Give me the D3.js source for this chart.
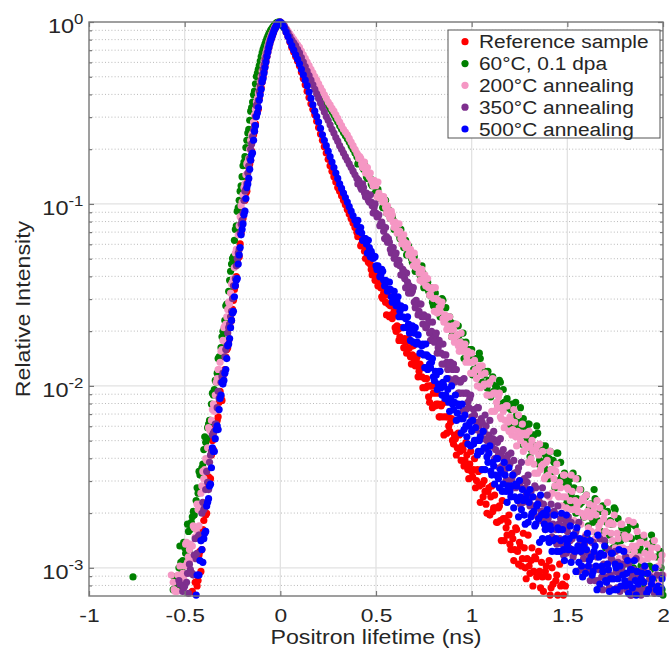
<!DOCTYPE html>
<html>
<head>
<meta charset="utf-8">
<script src="https://cdn.jsdelivr.net/npm/d3@7"></script>
<style>
html, body { margin: 0; padding: 0; background: #fff; }
svg { display: block; font-family: "Liberation Sans", Arial, Helvetica, sans-serif; }
</style>
</head>
<body>
<div id="chart"></div>
<script>
// positron lifetime spectra
// values = log10(relative intensity), N = channel below the plotted range
var N = null;

// channels every 0.01 ns
var lifetimeNs = [
  -0.8,-0.79,-0.78,-0.77,-0.76,-0.75,-0.74,-0.73,-0.72,-0.71,
  -0.7,-0.69,-0.68,-0.67,-0.66,-0.65,-0.64,-0.63,-0.62,-0.61,
  -0.6,-0.59,-0.58,-0.57,-0.56,-0.55,-0.54,-0.53,-0.52,-0.51,
  -0.5,-0.49,-0.48,-0.47,-0.46,-0.45,-0.44,-0.43,-0.42,-0.41,
  -0.4,-0.39,-0.38,-0.37,-0.36,-0.35,-0.34,-0.33,-0.32,-0.31,
  -0.3,-0.29,-0.28,-0.27,-0.26,-0.25,-0.24,-0.23,-0.22,-0.21,
  -0.2,-0.19,-0.18,-0.17,-0.16,-0.15,-0.14,-0.13,-0.12,-0.11,
  -0.1,-0.09,-0.08,-0.07,-0.06,-0.05,-0.04,-0.03,-0.02,-0.01,
  0,0.01,0.02,0.03,0.04,0.05,0.06,0.07,0.08,0.09,
  0.1,0.11,0.12,0.13,0.14,0.15,0.16,0.17,0.18,0.19,
  0.2,0.21,0.22,0.23,0.24,0.25,0.26,0.27,0.28,0.29,
  0.3,0.31,0.32,0.33,0.34,0.35,0.36,0.37,0.38,0.39,
  0.4,0.41,0.42,0.43,0.44,0.45,0.46,0.47,0.48,0.49,
  0.5,0.51,0.52,0.53,0.54,0.55,0.56,0.57,0.58,0.59,
  0.6,0.61,0.62,0.63,0.64,0.65,0.66,0.67,0.68,0.69,
  0.7,0.71,0.72,0.73,0.74,0.75,0.76,0.77,0.78,0.79,
  0.8,0.81,0.82,0.83,0.84,0.85,0.86,0.87,0.88,0.89,
  0.9,0.91,0.92,0.93,0.94,0.95,0.96,0.97,0.98,0.99,
  1,1.01,1.02,1.03,1.04,1.05,1.06,1.07,1.08,1.09,
  1.1,1.11,1.12,1.13,1.14,1.15,1.16,1.17,1.18,1.19,
  1.2,1.21,1.22,1.23,1.24,1.25,1.26,1.27,1.28,1.29,
  1.3,1.31,1.32,1.33,1.34,1.35,1.36,1.37,1.38,1.39,
  1.4,1.41,1.42,1.43,1.44,1.45,1.46,1.47,1.48,1.49,
  1.5,1.51,1.52,1.53,1.54,1.55,1.56,1.57,1.58,1.59,
  1.6,1.61,1.62,1.63,1.64,1.65,1.66,1.67,1.68,1.69,
  1.7,1.71,1.72,1.73,1.74,1.75,1.76,1.77,1.78,1.79,
  1.8,1.81,1.82,1.83,1.84,1.85,1.86,1.87,1.88,1.89,
  1.9,1.91,1.92,1.93,1.94,1.95,1.96,1.97,1.98,1.99,
  2
];

// in-between channels on the rising edge
var riseHalfNs = [
  -0.555,-0.545,-0.535,-0.525,-0.515,-0.505,-0.495,-0.485,-0.475,-0.465,
  -0.455,-0.445,-0.435,-0.425,-0.415,-0.405,-0.395,-0.385,-0.375,-0.365,
  -0.355,-0.345,-0.335,-0.325,-0.315,-0.305,-0.295,-0.285,-0.275,-0.265,
  -0.255,-0.245,-0.235,-0.225,-0.215,-0.205,-0.195,-0.185,-0.175,-0.165,
  -0.155,-0.145,-0.135,-0.125,-0.115,-0.105,-0.095,-0.085,-0.075,-0.065,
  -0.055,-0.045,-0.035,-0.025,-0.015,-0.005
];

// in-between channels of the tail
var tailHalfNs = [
  0.405,0.415,0.425,0.435,0.445,0.455,0.465,0.475,0.485,0.495,
  0.505,0.515,0.525,0.535,0.545,0.555,0.565,0.575,0.585,0.595,
  0.605,0.615,0.625,0.635,0.645,0.655,0.665,0.675,0.685,0.695,
  0.705,0.715,0.725,0.735,0.745,0.755,0.765,0.775,0.785,0.795,
  0.805,0.815,0.825,0.835,0.845,0.855,0.865,0.875,0.885,0.895,
  0.905,0.915,0.925,0.935,0.945,0.955,0.965,0.975,0.985,0.995,
  1.005,1.015,1.025,1.035,1.045,1.055,1.065,1.075,1.085,1.095,
  1.105,1.115,1.125,1.135,1.145,1.155,1.165,1.175,1.185,1.195,
  1.205,1.215,1.225,1.235,1.245,1.255,1.265,1.275,1.285,1.295,
  1.305,1.315,1.325,1.335,1.345,1.355,1.365,1.375,1.385,1.395,
  1.405,1.415,1.425,1.435,1.445,1.455,1.465,1.475,1.485,1.495,
  1.505,1.515,1.525,1.535,1.545,1.555,1.565,1.575,1.585,1.595,
  1.605,1.615,1.625,1.635,1.645,1.655,1.665,1.675,1.685,1.695,
  1.705,1.715,1.725,1.735,1.745,1.755,1.765,1.775,1.785,1.795,
  1.805,1.815,1.825,1.835,1.845,1.855,1.865,1.875,1.885,1.895,
  1.905,1.915,1.925,1.935,1.945,1.955,1.965,1.975,1.985,1.995
];

var referenceLog = [
  N,N,N,N,N,N,N,N,N,N,
  N,N,N,N,N,N,N,N,N,N,
  N,N,N,N,N,N,N,N,N,N,
  N,N,N,N,-3.13,N,-3.08,-3.07,-2.91,-2.9,
  -2.74,-2.71,-2.55,-2.52,-2.38,-2.35,-2.23,-2.19,-2.09,-2.06,
  -1.95,-1.91,-1.8,-1.75,-1.64,-1.58,-1.47,-1.4,-1.29,-1.22,
  -1.11,-1.04,-0.94,-0.87,-0.78,-0.71,-0.62,-0.56,-0.49,-0.42,
  -0.36,-0.3,-0.24,-0.19,-0.14,-0.1,-0.07,-0.04,-0.02,-0.005,
  0,-0.01,-0.03,-0.055,-0.08,-0.11,-0.14,-0.165,-0.19,-0.215,
  -0.24,-0.275,-0.31,-0.345,-0.38,-0.415,-0.45,-0.48,-0.51,-0.545,
  -0.58,-0.615,-0.65,-0.685,-0.72,-0.755,-0.79,-0.82,-0.85,-0.88,
  -0.91,-0.93,-0.955,-0.98,-1.005,-1.03,-1.055,-1.08,-1.105,-1.13,
  -1.155,-1.17,-1.23,-1.21,-1.26,-1.25,-1.32,-1.33,-1.39,-1.36,
  -1.4,-1.45,-1.42,-1.51,-1.49,-1.54,-1.5,-1.62,-1.61,-1.61,
  -1.68,-1.67,-1.75,-1.68,-1.75,-1.74,-1.82,-1.74,-1.84,-1.83,
  -1.86,-1.86,-1.95,-1.88,-1.95,-1.9,-2.01,-2,-2.09,-2,
  -2.04,-2.11,-2.04,-2.17,-2.11,-2.17,-2.09,-2.26,-2.22,-2.2,
  -2.3,-2.27,-2.38,-2.26,-2.36,-2.33,-2.44,-2.31,-2.46,-2.43,
  -2.47,-2.46,-2.56,-2.46,-2.55,-2.46,-2.61,-2.58,-2.7,-2.56,
  -2.61,-2.69,-2.6,-2.75,-2.67,-2.74,-2.63,-2.85,-2.78,-2.75,
  -2.87,-2.81,-2.96,-2.78,-2.91,-2.86,-2.99,-2.81,-3,-2.95,
  -2.99,-2.96,-3.1,-2.94,-3.05,-2.91,-3.11,-3.05,N,-2.99,
  -3.05,-3.15,-3,N,-3.07,-3.15,-2.98,N,-3.15,-3.1,
  N,N,N,N,N,N,N,N,N,N,
  N,N,N,N,N,N,N,N,N,N,
  N,N,N,N,N,N,N,N,N,N,
  N,N,N,N,N,N,N,N,N,N,
  N,N,N,N,N,N,N,N,N,N,
  N
];
var referenceRiseLog = [
  N,N,N,N,N,N,N,N,N,N,
  N,-3.08,-3.1,-2.93,-3.02,-2.79,-2.66,-2.7,-2.5,-2.51,
  -2.3,-2.29,-2.21,-2.17,-2.03,-2.08,-1.92,-1.84,-1.79,-1.66,
  -1.64,-1.53,-1.45,-1.31,-1.29,-1.16,-1.08,-0.98,-0.93,-0.8,
  -0.76,-0.65,-0.6,-0.51,-0.48,-0.38,-0.33,-0.27,-0.215,-0.165,
  -0.12,-0.085,-0.055,-0.03,-0.012,-0.002
];
var referenceTailLog = [
  -1.18,-1.16,-1.22,-1.22,-1.3,-1.29,-1.3,-1.36,-1.36,-1.42,
  -1.38,-1.44,-1.46,-1.52,-1.48,-1.61,-1.55,-1.56,-1.63,-1.59,
  -1.7,-1.69,-1.73,-1.68,-1.79,-1.76,-1.8,-1.79,-1.88,-1.78,
  -1.89,-1.84,-1.92,-1.9,-2.01,-1.96,-1.96,-2.06,-2,-2.12,
  -1.99,-2.1,-2.1,-2.17,-2.1,-2.27,-2.17,-2.17,-2.25,-2.18,
  -2.32,-2.29,-2.34,-2.27,-2.41,-2.35,-2.41,-2.38,-2.51,-2.36,
  -2.5,-2.4,-2.52,-2.47,-2.64,-2.54,-2.52,-2.65,-2.58,-2.71,
  -2.55,-2.67,-2.67,-2.75,-2.66,-2.85,-2.73,-2.73,-2.82,-2.71,
  -2.9,-2.84,-2.9,-2.79,-2.98,-2.88,-2.95,-2.89,-3.06,-2.82,
  -3.03,-2.89,-3.02,-2.95,N,-3.02,-2.97,-3.13,-3.02,N,
  -2.96,-3.11,-3.09,N,-3.04,N,-3.1,-3.09,N,-3.05,
  N,N,N,N,N,N,N,N,N,N,
  N,N,N,N,N,N,N,N,N,N,
  N,N,N,N,N,N,N,N,N,N,
  N,N,N,N,N,N,N,N,N,N,
  N,N,N,N,N,N,N,N,N,N
];

var dpa60Log = [
  N,N,N,-3.05,N,N,N,N,N,N,
  N,N,N,N,N,N,N,N,N,N,
  N,N,N,N,-3.12,N,-3.05,-3,-2.97,-2.96,
  -2.89,-2.88,-2.8,-2.79,-2.72,-2.71,-2.63,-2.59,-2.49,-2.45,
  -2.35,-2.31,-2.23,-2.19,-2.1,-2.05,-1.97,-1.93,-1.84,-1.79,
  -1.7,-1.64,-1.55,-1.48,-1.37,-1.3,-1.2,-1.12,-1.02,-0.93,
  -0.85,-0.77,-0.69,-0.61,-0.54,-0.47,-0.4,-0.34,-0.28,-0.24,
  -0.19,-0.15,-0.12,-0.09,-0.065,-0.045,-0.03,-0.015,-0.005,0,
  -0.01,-0.02,-0.03,-0.045,-0.06,-0.075,-0.09,-0.107,-0.125,-0.142,
  -0.16,-0.18,-0.2,-0.22,-0.24,-0.26,-0.28,-0.3,-0.32,-0.34,
  -0.36,-0.38,-0.4,-0.42,-0.44,-0.457,-0.475,-0.492,-0.51,-0.53,
  -0.55,-0.57,-0.59,-0.607,-0.625,-0.642,-0.66,-0.68,-0.7,-0.72,
  -0.74,-0.77,-0.76,-0.8,-0.78,-0.85,-0.85,-0.86,-0.9,-0.9,
  -0.94,-0.92,-0.97,-0.97,-1.02,-0.98,-1.05,-1.06,-1.08,-1.09,
  -1.14,-1.12,-1.17,-1.14,-1.22,-1.22,-1.28,-1.23,-1.27,-1.32,
  -1.29,-1.37,-1.34,-1.39,-1.34,-1.46,-1.44,-1.43,-1.5,-1.48,
  -1.56,-1.49,-1.56,-1.54,-1.62,-1.53,-1.64,-1.62,-1.65,-1.65,
  -1.72,-1.66,-1.73,-1.67,-1.78,-1.76,-1.85,-1.76,-1.8,-1.86,
  -1.8,-1.91,-1.85,-1.9,-1.82,-1.99,-1.94,-1.92,-2.01,-1.97,
  -2.06,-1.95,-2.04,-2.01,-2.11,-1.98,-2.12,-2.09,-2.12,-2.11,
  -2.2,-2.1,-2.18,-2.09,-2.24,-2.2,-2.32,-2.18,-2.22,-2.3,
  -2.21,-2.35,-2.27,-2.33,-2.22,-2.43,-2.36,-2.33,-2.45,-2.39,
  -2.51,-2.36,-2.47,-2.42,-2.55,-2.37,-2.55,-2.5,-2.53,-2.52,
  -2.63,-2.51,-2.6,-2.48,-2.66,-2.62,-2.76,-2.57,-2.63,-2.72,
  -2.6,-2.77,-2.65,-2.73,-2.57,-2.84,-2.74,-2.69,-2.83,-2.74,
  -2.89,-2.69,-2.82,-2.76,-2.89,-2.68,-2.88,-2.82,-2.85,-2.82,
  -2.95,-2.8,-2.9,-2.76,-2.96,-2.9,-3.05,-2.83,-2.89,-2.98,
  -2.84,-3.03,-2.91,-2.99,-2.82,-3.1,-3,-2.94,-3.09,-3,
  -3.15
];
var dpa60RiseLog = [
  -3.05,-3.09,-3.11,-2.88,-3.01,-2.86,-2.92,-2.76,-2.9,-2.75,
  -2.69,-2.78,-2.56,-2.47,-2.47,-2.43,-2.28,-2.29,-2.21,-2.19,
  -2.04,-2.02,-1.98,-1.85,-1.84,-1.73,-1.69,-1.56,-1.55,-1.42,
  -1.33,-1.29,-1.14,-1.04,-0.98,-0.9,-0.79,-0.74,-0.65,-0.59,
  -0.49,-0.44,-0.38,-0.3,-0.26,-0.215,-0.17,-0.135,-0.105,-0.077,
  -0.055,-0.037,-0.022,-0.01,-0.002,0
];
var dpa60TailLog = [
  -0.78,-0.76,-0.78,-0.81,-0.8,-0.86,-0.86,-0.89,-0.88,-0.94,
  -0.93,-0.96,-0.97,-1.02,-0.98,-1.05,-1.03,-1.08,-1.07,-1.14,
  -1.12,-1.13,-1.19,-1.18,-1.24,-1.2,-1.25,-1.27,-1.3,-1.29,
  -1.37,-1.34,-1.35,-1.4,-1.38,-1.45,-1.45,-1.48,-1.46,-1.54,
  -1.51,-1.55,-1.53,-1.62,-1.52,-1.62,-1.57,-1.65,-1.62,-1.73,
  -1.68,-1.67,-1.75,-1.72,-1.8,-1.71,-1.79,-1.8,-1.85,-1.8,
  -1.94,-1.85,-1.85,-1.92,-1.85,-1.98,-1.94,-1.99,-1.92,-2.04,
  -1.98,-2.03,-2,-2.12,-1.97,-2.1,-2.02,-2.11,-2.07,-2.21,
  -2.13,-2.11,-2.22,-2.16,-2.27,-2.12,-2.24,-2.23,-2.3,-2.21,
  -2.39,-2.27,-2.27,-2.35,-2.26,-2.41,-2.37,-2.42,-2.33,-2.48,
  -2.4,-2.46,-2.41,-2.56,-2.37,-2.52,-2.42,-2.53,-2.48,-2.65,
  -2.54,-2.51,-2.65,-2.56,-2.7,-2.51,-2.65,-2.64,-2.72,-2.61,
  -2.84,-2.67,-2.65,-2.75,-2.62,-2.81,-2.75,-2.8,-2.66,-2.86,
  -2.75,-2.81,-2.74,-2.92,-2.67,-2.86,-2.73,-2.85,-2.78,-2.98,
  -2.84,-2.79,-2.95,-2.84,-3,-2.77,-2.92,-2.91,-2.99,-2.85,
  -3.1,-2.92,-2.9,-3.01,-2.86,-3.07,-3,-3.06,-2.91,-3.12
];

var anneal200Log = [
  N,N,N,N,N,N,N,N,N,N,
  N,N,N,N,N,N,N,N,N,N,
  N,N,N,-3.04,-3.08,-3.13,-3.13,N,-3.06,-3.03,
  -2.99,-2.86,-2.94,-2.87,-2.88,-2.78,-2.79,-2.68,-2.65,-2.55,
  -2.51,-2.4,-2.34,-2.24,-2.19,-2.1,-2.05,-1.96,-1.91,-1.81,
  -1.75,-1.67,-1.62,-1.54,-1.49,-1.43,-1.35,-1.25,-1.17,-1.07,
  -0.99,-0.91,-0.84,-0.77,-0.7,-0.62,-0.55,-0.48,-0.42,-0.36,
  -0.3,-0.24,-0.19,-0.15,-0.11,-0.08,-0.055,-0.03,-0.015,-0.005,
  0,-0.01,-0.02,-0.035,-0.05,-0.065,-0.08,-0.095,-0.11,-0.125,
  -0.14,-0.16,-0.18,-0.2,-0.22,-0.24,-0.26,-0.28,-0.3,-0.32,
  -0.34,-0.36,-0.38,-0.4,-0.42,-0.44,-0.455,-0.475,-0.49,-0.51,
  -0.53,-0.55,-0.57,-0.59,-0.605,-0.62,-0.64,-0.66,-0.68,-0.7,
  -0.72,-0.75,-0.75,-0.8,-0.77,-0.8,-0.84,-0.83,-0.88,-0.87,
  -0.9,-0.88,-0.97,-0.96,-0.96,-1.02,-1.01,-1.07,-1.04,-1.1,
  -1.1,-1.16,-1.11,-1.19,-1.19,-1.21,-1.22,-1.28,-1.25,-1.3,
  -1.27,-1.35,-1.35,-1.42,-1.36,-1.4,-1.45,-1.41,-1.5,-1.47,
  -1.52,-1.46,-1.6,-1.57,-1.56,-1.63,-1.61,-1.69,-1.62,-1.69,
  -1.67,-1.76,-1.66,-1.78,-1.76,-1.79,-1.79,-1.87,-1.81,-1.87,
  -1.82,-1.93,-1.91,-2,-1.89,-1.94,-2,-1.93,-2.05,-1.99,
  -2.05,-1.96,-2.14,-2.09,-2.06,-2.17,-2.12,-2.23,-2.11,-2.2,
  -2.17,-2.27,-2.13,-2.28,-2.25,-2.28,-2.26,-2.36,-2.26,-2.34,
  -2.25,-2.4,-2.36,-2.48,-2.33,-2.38,-2.46,-2.36,-2.51,-2.42,
  -2.49,-2.36,-2.59,-2.51,-2.47,-2.6,-2.53,-2.66,-2.49,-2.61,
  -2.56,-2.68,-2.49,-2.68,-2.63,-2.66,-2.64,-2.76,-2.62,-2.72,
  -2.6,-2.78,-2.72,-2.86,-2.66,-2.71,-2.8,-2.67,-2.85,-2.73,
  -2.8,-2.64,-2.91,-2.81,-2.76,-2.89,-2.81,-2.95,-2.76,-2.89,
  -2.82,-2.96,-2.74,-2.94,-2.88,-2.91,-2.88,-3.02,-2.86,-2.96,
  -2.82,-3.01,-2.95,-3.1,-2.89,-2.94,-3.04,-2.89,-3.09,-2.96,
  -3.04
];
var anneal200RiseLog = [
  -3.12,N,-3.04,-2.99,-3.04,-3.06,-2.87,-2.97,-2.9,-2.95,
  -2.77,-2.83,-2.65,-2.77,-2.59,-2.47,-2.46,-2.41,-2.23,-2.25,
  -2.13,-2.14,-1.98,-1.91,-1.87,-1.8,-1.68,-1.66,-1.58,-1.55,
  -1.44,-1.41,-1.27,-1.25,-1.12,-1.01,-0.95,-0.89,-0.78,-0.75,
  -0.65,-0.61,-0.51,-0.44,-0.39,-0.33,-0.27,-0.215,-0.17,-0.13,
  -0.095,-0.067,-0.042,-0.022,-0.01,-0.002
];
var anneal200TailLog = [
  -0.73,-0.74,-0.78,-0.78,-0.83,-0.8,-0.85,-0.87,-0.9,-0.89,
  -0.96,-0.94,-0.96,-0.99,-0.98,-1.05,-1.05,-1.08,-1.06,-1.13,
  -1.12,-1.15,-1.15,-1.22,-1.17,-1.24,-1.22,-1.27,-1.27,-1.34,
  -1.32,-1.32,-1.38,-1.37,-1.43,-1.39,-1.45,-1.46,-1.5,-1.46,
  -1.59,-1.52,-1.53,-1.59,-1.54,-1.65,-1.63,-1.67,-1.62,-1.73,
  -1.69,-1.73,-1.72,-1.81,-1.71,-1.81,-1.77,-1.84,-1.82,-1.93,
  -1.87,-1.86,-1.96,-1.91,-2.01,-1.89,-1.99,-1.99,-2.05,-1.98,
  -2.14,-2.04,-2.04,-2.12,-2.04,-2.18,-2.14,-2.19,-2.11,-2.25,
  -2.19,-2.24,-2.2,-2.33,-2.16,-2.3,-2.21,-2.32,-2.27,-2.42,
  -2.33,-2.3,-2.43,-2.35,-2.48,-2.32,-2.44,-2.43,-2.5,-2.41,
  -2.61,-2.46,-2.46,-2.55,-2.43,-2.61,-2.56,-2.61,-2.49,-2.67,
  -2.57,-2.63,-2.58,-2.74,-2.51,-2.69,-2.57,-2.7,-2.63,-2.82,
  -2.69,-2.65,-2.8,-2.69,-2.84,-2.63,-2.77,-2.75,-2.83,-2.7,
  -2.93,-2.76,-2.75,-2.85,-2.71,-2.91,-2.84,-2.89,-2.76,-2.95,
  -2.84,-2.9,-2.83,-3.01,-2.75,-2.95,-2.8,-2.94,-2.86,-3.07,
  -2.92,-2.87,-3.03,-2.92,-3.08,-2.85,-3,-2.99,-3.06,-2.93
];

var anneal350Log = [
  N,N,N,N,N,N,N,N,N,N,
  N,N,N,N,N,N,N,N,N,N,
  N,N,N,N,N,N,N,-3.07,N,-3.13,
  -3.1,-3.08,-3.14,-3.01,-3.03,-2.93,-2.95,-2.83,-2.82,-2.7,
  -2.68,-2.57,-2.53,-2.42,-2.36,-2.26,-2.21,-2.12,-2.07,-1.98,
  -1.93,-1.84,-1.78,-1.68,-1.62,-1.52,-1.45,-1.34,-1.27,-1.16,
  -1.09,-0.98,-0.92,-0.83,-0.75,-0.67,-0.59,-0.52,-0.45,-0.38,
  -0.32,-0.26,-0.21,-0.17,-0.125,-0.09,-0.06,-0.035,-0.015,-0.005,
  0,-0.01,-0.02,-0.04,-0.06,-0.08,-0.1,-0.115,-0.13,-0.15,
  -0.17,-0.195,-0.22,-0.245,-0.27,-0.295,-0.32,-0.345,-0.37,-0.395,
  -0.42,-0.445,-0.47,-0.495,-0.52,-0.54,-0.565,-0.59,-0.61,-0.635,
  -0.655,-0.68,-0.7,-0.72,-0.74,-0.76,-0.78,-0.8,-0.82,-0.84,
  -0.86,-0.87,-0.91,-0.89,-0.94,-0.94,-0.98,-0.95,-1.01,-1.02,
  -1.05,-1.07,-1.12,-1.1,-1.15,-1.13,-1.21,-1.21,-1.27,-1.24,
  -1.28,-1.33,-1.31,-1.39,-1.36,-1.41,-1.38,-1.49,-1.48,-1.48,
  -1.54,-1.53,-1.61,-1.55,-1.62,-1.61,-1.68,-1.62,-1.71,-1.7,
  -1.73,-1.73,-1.82,-1.75,-1.82,-1.77,-1.88,-1.87,-1.96,-1.87,
  -1.91,-1.98,-1.91,-2.04,-1.98,-2.04,-1.96,-2.13,-2.09,-2.07,
  -2.17,-2.13,-2.24,-2.12,-2.22,-2.18,-2.29,-2.16,-2.3,-2.27,
  -2.3,-2.29,-2.4,-2.3,-2.38,-2.29,-2.44,-2.4,-2.52,-2.38,
  -2.43,-2.51,-2.41,-2.56,-2.47,-2.54,-2.42,-2.64,-2.56,-2.53,
  -2.64,-2.58,-2.71,-2.55,-2.67,-2.62,-2.74,-2.56,-2.74,-2.69,
  -2.73,-2.7,-2.83,-2.69,-2.79,-2.66,-2.84,-2.79,-2.93,-2.74,
  -2.8,-2.89,-2.75,-2.94,-2.82,-2.9,-2.75,-3.01,-2.92,-2.87,
  -3.01,-2.92,-3.07,-2.86,-3,-2.93,-3.07,-2.84,-3.05,-2.98,
  -3.01,-2.98,-3.11,-2.95,-3.06,-2.91,-3.11,-3.04,N,-2.98,
  -3.03,-3.12,-2.98,-3.15,-3.04,-3.12,-2.95,N,-3.12,-3.07,
  N,-3.12,N,-3.06,N,-3.12,N,-3.04,N,N,
  N
];
var anneal350RiseLog = [
  N,N,N,-3.09,N,-3.11,N,-3.03,-2.98,-3.03,
  -3.04,-2.84,-2.92,-2.82,-2.85,-2.64,-2.67,-2.47,-2.57,-2.38,
  -2.27,-2.25,-2.21,-2.03,-2.06,-1.95,-1.93,-1.8,-1.71,-1.66,
  -1.59,-1.45,-1.41,-1.3,-1.25,-1.11,-1.05,-0.93,-0.89,-0.79,
  -0.7,-0.63,-0.57,-0.46,-0.43,-0.35,-0.29,-0.235,-0.19,-0.147,
  -0.107,-0.075,-0.047,-0.025,-0.01,-0.002
];
var anneal350TailLog = [
  -0.89,-0.89,-0.92,-0.91,-0.96,-0.96,-0.99,-0.99,-1.05,-1,
  -1.07,-1.06,-1.11,-1.12,-1.19,-1.18,-1.19,-1.25,-1.24,-1.3,
  -1.27,-1.33,-1.34,-1.39,-1.37,-1.46,-1.43,-1.45,-1.49,-1.46,
  -1.57,-1.55,-1.59,-1.55,-1.66,-1.62,-1.67,-1.65,-1.75,-1.65,
  -1.76,-1.71,-1.79,-1.77,-1.88,-1.83,-1.83,-1.91,-1.88,-1.97,
  -1.88,-1.96,-1.97,-2.04,-1.97,-2.14,-2.04,-2.04,-2.12,-2.05,
  -2.19,-2.16,-2.2,-2.12,-2.26,-2.2,-2.25,-2.22,-2.35,-2.19,
  -2.33,-2.25,-2.35,-2.31,-2.45,-2.37,-2.35,-2.46,-2.41,-2.52,
  -2.37,-2.49,-2.48,-2.55,-2.45,-2.65,-2.52,-2.51,-2.6,-2.49,
  -2.66,-2.61,-2.66,-2.56,-2.72,-2.64,-2.69,-2.65,-2.79,-2.6,
  -2.76,-2.65,-2.76,-2.7,-2.87,-2.76,-2.73,-2.87,-2.77,-2.92,
  -2.72,-2.85,-2.84,-2.92,-2.8,-3.02,-2.87,-2.86,-2.95,-2.83,
  -3.02,-2.95,-3,-2.86,-3.07,-2.94,-3.01,-2.93,-3.12,-2.85,
  -3.05,-2.9,-3.04,-2.96,N,-3.02,-2.97,-3.13,-3.01,N,
  -2.94,-3.09,-3.07,-3.15,-3.01,N,-3.07,-3.05,-3.15,-3.01,
  N,-3.14,N,-3.05,N,-3.14,N,-3.13,N,-3.04
];

var anneal500Log = [
  N,N,N,N,N,N,N,N,N,N,
  N,N,N,N,N,N,N,N,N,N,
  N,N,N,N,N,N,N,N,N,N,
  N,N,N,N,N,N,-3.15,-3.04,-2.96,-2.9,
  -2.84,-2.8,-2.64,-2.55,-2.45,-2.36,-2.29,-2.22,-2.13,-2.05,
  -1.99,-1.93,-1.85,-1.77,-1.68,-1.6,-1.51,-1.42,-1.33,-1.24,
  -1.14,-1.06,-0.97,-0.89,-0.81,-0.73,-0.65,-0.57,-0.5,-0.43,
  -0.37,-0.31,-0.25,-0.19,-0.14,-0.1,-0.07,-0.04,-0.02,-0.005,
  0,-0.01,-0.03,-0.055,-0.08,-0.105,-0.13,-0.155,-0.18,-0.205,
  -0.23,-0.26,-0.29,-0.32,-0.35,-0.385,-0.42,-0.455,-0.49,-0.52,
  -0.55,-0.585,-0.62,-0.65,-0.68,-0.71,-0.74,-0.77,-0.8,-0.83,
  -0.86,-0.89,-0.915,-0.94,-0.965,-0.99,-1.015,-1.04,-1.065,-1.09,
  -1.115,-1.15,-1.13,-1.2,-1.19,-1.22,-1.2,-1.29,-1.28,-1.29,
  -1.34,-1.34,-1.4,-1.36,-1.42,-1.42,-1.48,-1.43,-1.51,-1.51,
  -1.54,-1.54,-1.62,-1.56,-1.62,-1.57,-1.68,-1.66,-1.75,-1.67,
  -1.71,-1.77,-1.72,-1.82,-1.78,-1.83,-1.77,-1.91,-1.88,-1.87,
  -1.95,-1.92,-2.02,-1.92,-2.01,-1.98,-2.07,-1.96,-2.09,-2.07,
  -2.1,-2.09,-2.19,-2.1,-2.18,-2.1,-2.24,-2.22,-2.32,-2.2,
  -2.25,-2.32,-2.23,-2.38,-2.3,-2.36,-2.25,-2.46,-2.39,-2.37,
  -2.47,-2.42,-2.54,-2.4,-2.51,-2.46,-2.58,-2.42,-2.58,-2.55,
  -2.58,-2.55,-2.67,-2.54,-2.63,-2.52,-2.68,-2.63,-2.76,-2.59,
  -2.64,-2.72,-2.61,-2.77,-2.66,-2.73,-2.6,-2.84,-2.76,-2.71,
  -2.84,-2.77,-2.91,-2.71,-2.84,-2.78,-2.91,-2.7,-2.9,-2.84,
  -2.87,-2.84,-2.97,-2.82,-2.91,-2.78,-2.97,-2.91,-3.05,-2.85,
  -2.9,-2.99,-2.85,-3.04,-2.91,-2.99,-2.82,-3.09,-2.99,-2.93,
  -3.07,-2.98,-3.13,-2.92,-3.06,-2.98,-3.12,-2.9,-3.1,-3.04,
  -3.07,-3.03,-3.14,-3.01,-3.11,-2.96,-3.15,-3.09,N,-3.03,
  -3.08,N,-3.03,N,-3.09,N,-3,N,-3.14,-3.11,
  N
];
var anneal500RiseLog = [
  N,N,N,N,N,N,N,N,N,N,
  N,N,-3.04,-3.04,-2.85,-2.97,-2.81,-2.66,-2.62,-2.54,
  -2.34,-2.36,-2.24,-2.24,-2.07,-1.98,-1.97,-1.91,-1.78,-1.74,
  -1.64,-1.59,-1.45,-1.41,-1.28,-1.17,-1.11,-1.04,-0.91,-0.86,
  -0.76,-0.72,-0.6,-0.52,-0.47,-0.4,-0.33,-0.28,-0.22,-0.165,
  -0.12,-0.085,-0.055,-0.03,-0.012,-0.002
];
var anneal500TailLog = [
  -1.09,-1.15,-1.16,-1.2,-1.19,-1.27,-1.24,-1.26,-1.3,-1.29,
  -1.36,-1.36,-1.39,-1.37,-1.45,-1.43,-1.47,-1.47,-1.54,-1.48,
  -1.56,-1.51,-1.59,-1.57,-1.68,-1.63,-1.62,-1.71,-1.68,-1.76,
  -1.68,-1.76,-1.77,-1.82,-1.77,-1.9,-1.83,-1.84,-1.9,-1.85,
  -1.97,-1.94,-1.99,-1.92,-2.05,-2,-2.05,-2.02,-2.14,-2,
  -2.13,-2.05,-2.15,-2.11,-2.26,-2.18,-2.16,-2.28,-2.22,-2.33,
  -2.19,-2.3,-2.3,-2.36,-2.28,-2.46,-2.34,-2.34,-2.42,-2.33,
  -2.49,-2.44,-2.49,-2.4,-2.56,-2.48,-2.54,-2.49,-2.64,-2.45,
  -2.61,-2.49,-2.61,-2.55,-2.72,-2.61,-2.57,-2.71,-2.62,-2.75,
  -2.57,-2.7,-2.69,-2.76,-2.65,-2.86,-2.71,-2.7,-2.79,-2.68,
  -2.86,-2.79,-2.85,-2.71,-2.91,-2.79,-2.85,-2.79,-2.96,-2.71,
  -2.9,-2.77,-2.9,-2.82,-3.02,-2.88,-2.84,-2.99,-2.88,-3.03,
  -2.81,-2.96,-2.94,-3.02,-2.88,-3.12,-2.94,-2.92,-3.02,-2.88,
  -3.08,-3.01,-3.06,-2.92,-3.12,-3,-3.06,-2.99,N,-2.91,
  -3.1,-2.96,-3.09,-3.01,N,-3.07,-3.02,N,-3.06,N,
  -2.99,-3.14,-3.12,N,-3.06,N,-3.12,-3.1,N,-3.06
];

var seriesNames = ["Reference sample", "60°C, 0.1 dpa", "200°C annealing", "350°C annealing", "500°C annealing"];
var seriesColors = ["#ff0000", "#008000", "#f597c4", "#7e2f8e", "#0000ff"];
var seriesValues = [referenceLog, dpa60Log, anneal200Log, anneal350Log, anneal500Log];
var seriesRiseValues = [referenceRiseLog, dpa60RiseLog, anneal200RiseLog, anneal350RiseLog, anneal500RiseLog];
var seriesTailValues = [referenceTailLog, dpa60TailLog, anneal200TailLog, anneal350TailLog, anneal500TailLog];

var xTickValues = [-1, -0.5, 0, 0.5, 1, 1.5, 2];
var yTickExponents = [-3, -2, -1, 0];

var width = 669, height = 654;
var plotL = 89, plotR = 663, plotT = 22, plotB = 596;
var axisColor = "#777";
var textColor = "#262626";

var svg = d3.select("#chart").append("svg")
    .attr("width", width)
    .attr("height", height);

var x = d3.scaleLinear().domain([-1, 2]).range([plotL, plotR]);
var y = d3.scaleLog().domain([7e-4, 1]).range([plotB, plotT]);

var majorY = yTickExponents.map(function (e) { return Math.pow(10, e); });
var minorY = [];
[-4, -3, -2, -1].forEach(function (e) {
    for (var k = 2; k <= 9; k++) {
        var v = k * Math.pow(10, e);
        if (v > 7.05e-4 && v < 1) minorY.push(v);
    }
});

//grid
var grid = svg.append("g");
grid.selectAll("line.minor").data(minorY).enter().append("line")
    .attr("x1", plotL).attr("x2", plotR)
    .attr("y1", function (d) { return y(d); }).attr("y2", function (d) { return y(d); })
    .attr("stroke", "#b9b9b9").attr("stroke-width", 1).attr("stroke-dasharray", "1,2.2");
grid.selectAll("line.hmajor").data(majorY.slice(0, 3)).enter().append("line")
    .attr("x1", plotL).attr("x2", plotR)
    .attr("y1", function (d) { return y(d); }).attr("y2", function (d) { return y(d); })
    .attr("stroke", "#e2e2e2").attr("stroke-width", 1.3);
grid.selectAll("line.vmajor").data(xTickValues.slice(1, -1)).enter().append("line")
    .attr("y1", plotT).attr("y2", plotB)
    .attr("x1", function (d) { return x(d); }).attr("x2", function (d) { return x(d); })
    .attr("stroke", "#e2e2e2").attr("stroke-width", 1.3);

//points
function toPoints(times, vals, out) {
    if (vals.length !== times.length) console.warn("length mismatch", vals.length, times.length);
    times.forEach(function (t, i) {
        var v = vals[i];
        if (v === null || v === undefined) return;
        var inten = Math.pow(10, v);
        if (inten < 7e-4 || inten > 1.0001) return;
        out.push({t: t, i: inten});
    });
    return out;
}

seriesValues.forEach(function (vals, si) {
    var pts = toPoints(lifetimeNs, vals, []);
    toPoints(riseHalfNs, seriesRiseValues[si], pts);
    toPoints(tailHalfNs, seriesTailValues[si], pts);
    svg.append("g").selectAll("circle")
        .data(pts)
        .enter()
        .append("circle")
        .attr("cx", function (d) { return x(d.t); })
        .attr("cy", function (d) { return y(d.i); })
        .attr("r", 3.6)
        .attr("fill", seriesColors[si]);
});

//axes
function styleAxis(g) {
    g.select(".domain").remove();
    g.selectAll(".tick line").attr("stroke", axisColor).attr("stroke-width", 1.2);
    g.selectAll(".tick text").attr("fill", textColor);
}

svg.append("g")
    .attr("transform", "translate(0," + plotB + ")")
    .call(d3.axisBottom(x).tickValues(xTickValues).tickSizeInner(-5).tickSizeOuter(0).tickPadding(13)
        .tickFormat(function (d) { return String(d); }))
    .call(styleAxis)
    .call(function (g) {
        g.selectAll(".tick text").attr("font-size", 19).attr("font-family", null)
            .attr("transform", "scale(1.2,1)");
    });

svg.append("g")
    .attr("transform", "translate(0," + plotT + ")")
    .call(d3.axisTop(x).tickValues(xTickValues).tickSizeInner(-5).tickSizeOuter(0).tickFormat(""))
    .call(styleAxis);

var yLeft = svg.append("g")
    .attr("transform", "translate(" + plotL + ",0)")
    .call(d3.axisLeft(y).tickValues(majorY).tickSizeInner(-5).tickSizeOuter(0).tickPadding(5)
        .tickFormat(function () { return ""; }))
    .call(styleAxis);

yLeft.selectAll(".tick text").each(function (d) {
    var t = d3.select(this);
    t.attr("font-size", 21).attr("font-family", null).attr("dy", "0.52em")
        .attr("transform", "scale(1.12,1)");
    t.append("tspan").text("10");
    t.append("tspan").attr("dy", -9).attr("font-size", 15).text(String(Math.round(Math.log10(d))));
});

svg.append("g")
    .attr("transform", "translate(" + plotL + ",0)")
    .call(d3.axisLeft(y).tickValues(minorY).tickSizeInner(-3).tickSizeOuter(0).tickFormat(""))
    .call(styleAxis);

svg.append("g")
    .attr("transform", "translate(" + plotR + ",0)")
    .call(d3.axisRight(y).tickValues(majorY).tickSizeInner(-5).tickSizeOuter(0).tickFormat(""))
    .call(styleAxis);

svg.append("g")
    .attr("transform", "translate(" + plotR + ",0)")
    .call(d3.axisRight(y).tickValues(minorY).tickSizeInner(-3).tickSizeOuter(0).tickFormat(""))
    .call(styleAxis);

svg.append("rect")
    .attr("x", plotL).attr("y", plotT)
    .attr("width", plotR - plotL).attr("height", plotB - plotT)
    .attr("fill", "none").attr("stroke", axisColor).attr("stroke-width", 1.4);

//axis labels
svg.append("g")
    .attr("transform", "translate(" + ((plotL + plotR) / 2) + ",644) scale(1.13,1)")
    .append("text")
    .attr("text-anchor", "middle")
    .attr("font-size", 20.5)
    .attr("fill", textColor)
    .text("Positron lifetime (ns)");

svg.append("g")
    .attr("transform", "translate(30," + ((plotT + plotB) / 2) + ") rotate(-90) scale(1.13,1)")
    .append("text")
    .attr("text-anchor", "middle")
    .attr("font-size", 20.5)
    .attr("fill", textColor)
    .text("Relative Intensity");

//legend
var legend = svg.append("g");
legend.append("rect")
    .attr("x", 448).attr("y", 30)
    .attr("width", 212).attr("height", 108)
    .attr("fill", "#fff").attr("stroke", "#555").attr("stroke-width", 1);

var rowY = d3.scaleLinear().domain([0, 4]).range([41.7, 129]);
var rows = legend.selectAll("g.row")
    .data(seriesNames)
    .enter()
    .append("g")
    .attr("transform", function (d, i) { return "translate(0," + rowY(i) + ")"; });

rows.append("circle")
    .attr("cx", 465).attr("cy", 0).attr("r", 3.6)
    .attr("fill", function (d, i) { return seriesColors[i]; });

rows.append("g")
    .attr("transform", "translate(479,6.7) scale(1.1,1)")
    .append("text")
    .attr("font-size", 19)
    .attr("fill", textColor)
    .text(function (d) { return d; });
</script>
</body>
</html>
